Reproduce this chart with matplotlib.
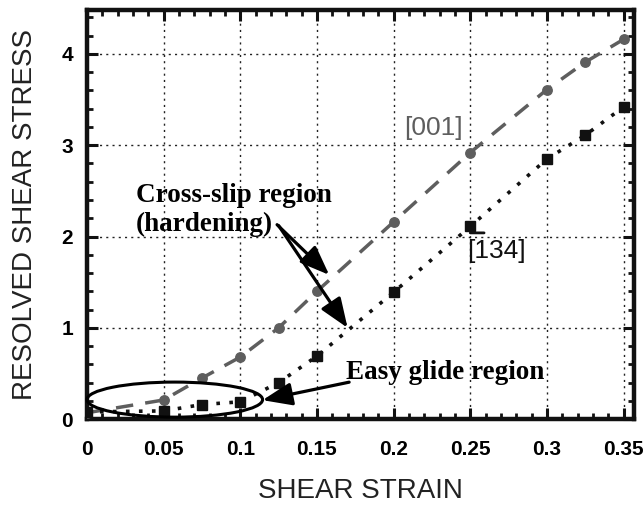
import numpy as np
import matplotlib
matplotlib.use('Agg')
import matplotlib.pyplot as plt
from matplotlib.patches import Ellipse

# shear strain values for each orientation
strain_001 = [0, 0.05, 0.075, 0.1, 0.125, 0.15, 0.2, 0.25, 0.3, 0.325, 0.35]
stress_001 = [0.07, 0.21, 0.45, 0.68, 1.0, 1.4, 2.16, 2.92, 3.61, 3.91, 4.16]

strain_134 = [0, 0.05, 0.075, 0.1, 0.125, 0.15, 0.2, 0.25, 0.3, 0.325, 0.35]
stress_134 = [0.08, 0.09, 0.16, 0.19, 0.4, 0.69, 1.39, 2.11, 2.85, 3.11, 3.42]

x_ticks = [0, 0.05, 0.1, 0.15, 0.2, 0.25, 0.3, 0.35]
x_ticklabels = ['0', '0.05', '0.1', '0.15', '0.2', '0.25', '0.3', '0.35']
y_ticks = [0, 1, 2, 3, 4]

GRAY = '#5e5e5e'
SANS = ['Liberation Sans', 'DejaVu Sans']
SERIF = ['Liberation Serif', 'DejaVu Serif']

fig = plt.figure(figsize=(6.44, 5.05), dpi=100)
ax = fig.add_axes([0.135, 0.170, 0.850, 0.810])

# the two curves
ax.plot(strain_001, stress_001, color=GRAY, lw=2.5, dashes=(5, 3.5),
        marker='o', ms=6.8, mfc=GRAY, mec=GRAY, zorder=3)
ax.plot(strain_134, stress_134, color='#111111', lw=2.6, dashes=(1, 2.6),
        marker='s', ms=7, mfc='#111111', mec='#111111', zorder=3)

ax.set_xlim(0, 0.357)
ax.set_ylim(0, 4.48)
ax.set_xticks(x_ticks)
ax.set_xticklabels(x_ticklabels)
ax.set_yticks(y_ticks)
ax.set_xticks(np.arange(0, 0.357, 0.01), minor=True)
ax.set_yticks(np.arange(0, 4.48, 0.2), minor=True)

for lab in ax.get_xticklabels() + ax.get_yticklabels():
    lab.set_family(SANS)
    lab.set_fontweight('bold')
    lab.set_fontsize(15)

ax.tick_params(which='both', direction='in', top=True, right=True, color='#111111')
ax.tick_params(which='major', length=8, width=2.2)
ax.tick_params(which='minor', length=4.5, width=2.0)
ax.tick_params(axis='x', which='major', pad=15)
ax.tick_params(axis='y', which='major', pad=10)

for sp in ax.spines.values():
    sp.set_linewidth(3.2)
    sp.set_color('#111111')

ax.grid(True, which='major', color='#222222', linestyle=(0, (1.5, 3)), linewidth=1)
ax.set_axisbelow(True)

ax.set_xlabel('SHEAR STRAIN', fontsize=20, family=SANS, color='#222222', labelpad=14)
ax.set_ylabel('RESOLVED SHEAR STRESS', fontsize=20, family=SANS, color='#222222', labelpad=17)

# curve labels
ax.text(0.207, 3.19, '[001]', fontsize=19, family=SANS, color=GRAY, va='center', ha='left')
ax.text(0.248, 1.84, '[134]', fontsize=19, family=SANS, color='#111111', va='center', ha='left')
ax.annotate('', xy=(0.259, 2.04), xytext=(0.25, 2.04),
            arrowprops=dict(arrowstyle='-', lw=2, color='#111111', shrinkA=0, shrinkB=0))

# region annotations
ax.text(0.032, 2.59, 'Cross-slip region\n(hardening)', fontsize=19.5, family=SERIF,
        fontweight='bold', va='top', ha='left', linespacing=1.2)
arrow = dict(arrowstyle='-|>,head_length=0.9,head_width=0.35', lw=2.3, color='k',
             shrinkA=0, shrinkB=0, mutation_scale=20)
ax.annotate('', xy=(0.158, 1.58), xytext=(0.124, 2.13), arrowprops=arrow)
ax.annotate('', xy=(0.170, 1.0), xytext=(0.125, 2.12), arrowprops=arrow)

ax.text(0.169, 0.515, 'Easy glide region', fontsize=19.5, family=SERIF,
        fontweight='bold', va='center', ha='left')
ax.annotate('', xy=(0.1145, 0.208), xytext=(0.171, 0.405), arrowprops=arrow)

ax.add_patch(Ellipse((0.0573, 0.214), 0.1145, 0.384, fill=False, lw=2.2,
                     color='k', clip_on=False, zorder=4))

plt.savefig('out.png', dpi=100)
